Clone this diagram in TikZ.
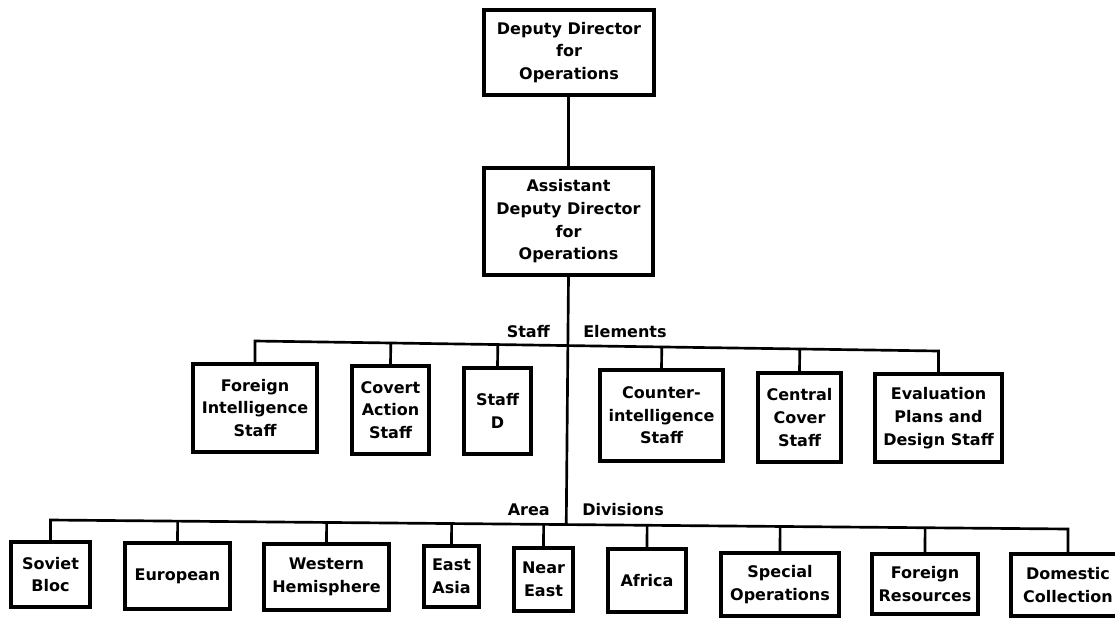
\documentclass[tikz,border=0pt]{standalone}
\usepackage{fontspec}
\setmainfont{DejaVu Sans}
\usetikzlibrary{calc}
\tikzset{
  orgbox/.style={draw, line width=2.5pt, align=center, inner sep=0pt,
    font=\fontsize{12}{17}\selectfont\bfseries},
  lbl/.style={inner sep=0pt, font=\fontsize{12}{17}\selectfont\bfseries},
  conn/.style={line width=2pt}
}
\begin{document}
\begin{tikzpicture}[x=0.75pt,y=-0.75pt]
\useasboundingbox (0,0) rectangle (1115,619);
\fill[white] (0,0) rectangle (1115,619);

% top
\node[orgbox, minimum width=127.5pt, minimum height=63.75pt] (ddo) at (569,52.5)
  {Deputy Director\\for\\Operations};
\node[orgbox, minimum width=126.75pt, minimum height=80.25pt] (addo) at (568.5,221.5)
  {Assistant\\Deputy Director\\for\\Operations};

% staff elements
\node[orgbox, minimum width=93pt, minimum height=66pt] (fis) at (255,408)
  {Foreign\\Intelligence\\Staff};
\node[orgbox, minimum width=57.75pt, minimum height=66pt] (cas) at (390.5,410)
  {Covert\\Action\\Staff};
\node[orgbox, minimum width=50.25pt, minimum height=64.5pt] (sd) at (497.5,411)
  {Staff\\D};
\node[orgbox, minimum width=92.25pt, minimum height=68.25pt] (cis) at (661.5,415.5)
  {Counter-\\intelligence\\Staff};
\node[orgbox, minimum width=62.25pt, minimum height=66.75pt] (ccs) at (799.5,417.5)
  {Central\\Cover\\Staff};
\node[orgbox, minimum width=95.25pt, minimum height=66pt] (epd) at (938.5,418)
  {Evaluation\\Plans and\\Design Staff};

% area divisions
\node[orgbox, minimum width=59.25pt, minimum height=48.75pt] (sb) at (50.5,574.5)
  {Soviet\\Bloc};
\node[orgbox, minimum width=78.75pt, minimum height=49.5pt] (eu) at (177.5,576)
  {European};
\node[orgbox, minimum width=93.75pt, minimum height=49.5pt] (wh) at (326.5,577)
  {Western\\Hemisphere};
\node[orgbox, minimum width=41.25pt, minimum height=45.75pt] (ea) at (451.5,576.5)
  {East\\Asia};
\node[orgbox, minimum width=44.25pt, minimum height=47.25pt] (ne) at (543.5,579.5)
  {Near\\East};
\node[orgbox, minimum width=58.5pt, minimum height=47.25pt] (af) at (647,580.5)
  {Africa};
\node[orgbox, minimum width=88.5pt, minimum height=47.25pt] (so) at (780,584.5)
  {Special\\Operations};
\node[orgbox, minimum width=79.5pt, minimum height=45pt] (fr) at (925,584)
  {Foreign\\Resources};
\node[orgbox, minimum width=85.5pt, minimum height=46.5pt] (dc) at (1068,585)
  {Domestic\\Collection};

% labels
\node[lbl, anchor=base east] (lstaff) at (550,337) {Staff};
\node[lbl, anchor=base west] (lelem) at (583,337) {Elements};
\node[lbl, anchor=base east] (larea) at (550,515) {Area};
\node[lbl, anchor=base west] (ldiv) at (582,515) {Divisions};

% bus reference points
\coordinate (yS1) at (0,341);
\coordinate (yS2) at (0,351);
\coordinate (yA1) at (0,520);
\coordinate (yA2) at (0,529);
\coordinate (sL) at (fis.north |- yS1);
\coordinate (sR) at (epd.north |- yS2);
\coordinate (aL) at (sb.north |- yA1);
\coordinate (aR) at (dc.north |- yA2);

% connectors
\draw[conn] (ddo.south) -- (addo.south |- ddo.south) -- (addo.north);
\draw[conn] (addo.south) -- ($(aL)!(addo.south)!(aR)$);
\draw[conn] (fis.north) -- (sL) -- (sR) -- (epd.north);
\foreach \n in {cas,sd,cis,ccs}
  \draw[conn] (\n.north) -- ($(sL)!(\n.north)!(sR)$);
\draw[conn] (sb.north) -- (aL) -- (aR) -- (dc.north);
\foreach \n in {eu,wh,ea,ne,af,so,fr}
  \draw[conn] (\n.north) -- ($(aL)!(\n.north)!(aR)$);
\end{tikzpicture}
\end{document}
